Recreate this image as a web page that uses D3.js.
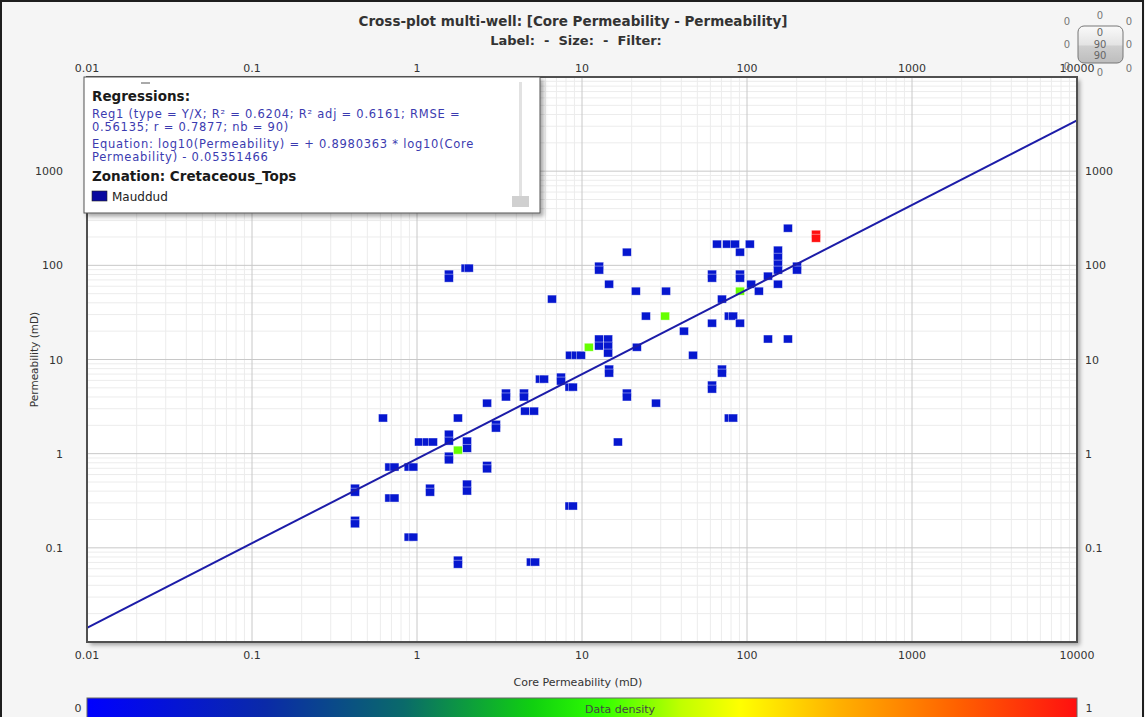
<!DOCTYPE html>
<html>
<head>
<meta charset="utf-8">
<script src="https://cdn.jsdelivr.net/npm/d3@7"></script>
<style>
    body { margin: 0; background: #fff; }
    svg { display: block; font-family: "DejaVu Sans", Verdana, sans-serif; }
</style>
</head>
<body>
<svg id="svg_plot" width="1145" height="717"></svg>
<script>
// blue points (low data density)
const blueCore = [1.56,1.56,1.97,2.06,18.7,12.7,12.7,14.6,21.2,6.58,
    32.3,177,65.8,75.7,84.6,104,90.7,154,154,154,
    154,201,201,61.4,61.4,90.7,90.7,134,106,154,
    118,70.5,24.4,77.6,82.4,61.4,90.7,41.5,134,177,
    12.7,14.4,12.7,14.4,14.4,21.5,8.46,9.2,9.86,47.1,
    14.6,14.6,70.5,70.5,5.56,5.89,7.46,7.46,8.4,8.8,
    61.4,61.4,18.7,18.7,3.46,3.46,4.45,4.45,2.66,28.1,
    4.52,5.12,1.77,0.622,77.6,82.4,3.01,3.01,1.56,1.56,
    1.03,1.15,1.25,2.01,2.01,16.5,1.56,1.56,0.68,0.73,
    0.89,0.95,2.66,2.66,0.421,0.421,1.2,1.2,2.01,2.01,
    0.68,0.73,8.4,8.8,0.421,0.421,0.89,0.95,1.77,1.77,
    4.9,5.2];
const bluePerm = [80.7,73.1,93.4,93.4,138,98,89,63.1,53.2,43.8,
    53.2,248,168,168,168,168,138,145,122,103,
    89,98,89,80.7,73.1,80.7,73.1,76.8,63.1,63.1,
    53.2,43.8,28.9,28.9,28.9,24.3,24.3,20.0,16.5,16.5,
    16.5,16.5,13.9,13.9,11.7,13.5,11.1,11.1,11.1,11.1,
    7.91,7.17,7.91,7.17,6.19,6.19,6.5,5.9,5.09,5.09,
    5.35,4.85,4.4,4.0,4.4,4.0,4.4,4.0,3.44,3.44,
    2.83,2.83,2.39,2.39,2.39,2.39,2.05,1.87,1.61,1.36,
    1.33,1.33,1.33,1.36,1.14,1.33,0.94,0.86,0.721,0.721,
    0.721,0.721,0.75,0.69,0.43,0.39,0.43,0.39,0.475,0.401,
    0.338,0.338,0.278,0.278,0.196,0.180,0.13,0.13,0.074,0.067,
    0.0706,0.0706];
const greenCore = [90.7, 31.9, 11.0, 1.77];
const greenPerm = [53.2, 28.9, 13.5, 1.09];
const redCore = [262, 262];
const redPerm = [214, 194];
const groupDensity = [0.1, 0.55, 1];

const decades = [0.01, 0.1, 1, 10, 100, 1000, 10000];
const xTickLabels = ['0.01', '0.1', '1', '10', '100', '1000', '10000'];
const yTicks = [0.1, 1, 10, 100, 1000];
const yTickLabels = ['0.1', '1', '10', '100', '1000'];

const regSlope = 0.8980363, regIntercept = -0.05351466;

const densityStops = [0, 0.18, 0.32, 0.45, 0.52, 0.6, 0.66, 0.76, 0.88, 1];
const densityColors = ['#0000ff', '#0a2aa8', '#0a6a6a', '#10d010', '#30ff00', '#c0ff00', '#ffff00', '#ffb000', '#ff6000', '#ff1010'];

const legendLines = [
    { text: 'Regressions:', bold: true, color: '#1a1a1a', y: 101 },
    { text: 'Reg1 (type = Y/X; R\u00b2 = 0.6204; R\u00b2 adj = 0.6161; RMSE =', color: '#3b3bb0', y: 118 },
    { text: '0.56135; r = 0.7877; nb = 90)', color: '#3b3bb0', y: 131 },
    { text: 'Equation: log10(Permeability) = + 0.8980363 * log10(Core', color: '#3b3bb0', y: 148 },
    { text: 'Permeability) - 0.05351466', color: '#3b3bb0', y: 161 },
    { text: 'Zonation: Cretaceous_Tops', bold: true, color: '#1a1a1a', y: 181 }
];

function draw_plot() {
    let svg = d3.select('#svg_plot');
    let left = 87, right = 1077, top = 77, bottom = 642;

    let x = d3.scaleLog().domain([0.01, 10000]).range([left, right]);
    let y = d3.scaleLog().domain([0.01, 10000]).range([bottom, top]);
    let color = d3.scaleLinear().domain(densityStops).range(densityColors);

    let defs = svg.append('defs');
    let shadow = defs.append('filter').attr('id', 'shadow').attr('x', '-5%').attr('y', '-5%').attr('width', '115%').attr('height', '120%');
    shadow.append('feDropShadow').attr('dx', 3).attr('dy', 3).attr('stdDeviation', 2).attr('flood-color', '#000').attr('flood-opacity', 0.35);
    let grad = defs.append('linearGradient').attr('id', 'density_grad');
    densityStops.forEach((s, i) => grad.append('stop').attr('offset', s).attr('stop-color', densityColors[i]));
    let knob = defs.append('linearGradient').attr('id', 'knob_grad').attr('x1', 0).attr('x2', 0).attr('y1', 0).attr('y2', 1);
    knob.append('stop').attr('offset', 0).attr('stop-color', '#fafafa');
    knob.append('stop').attr('offset', 0.5).attr('stop-color', '#e4e4e4');
    knob.append('stop').attr('offset', 0.55).attr('stop-color', '#cfcfcf');
    knob.append('stop').attr('offset', 1).attr('stop-color', '#bdbdbd');
    defs.append('clipPath').attr('id', 'plot_clip').append('rect')
        .attr('x', left).attr('y', top).attr('width', right - left).attr('height', bottom - top);

    // page background and frame
    svg.append('rect').attr('width', 1145).attr('height', 717).attr('fill', '#f5f5f5');
    svg.append('path').attr('d', 'M1,717 V1 H1143 V717').attr('fill', 'none').attr('stroke', '#1e1e1e').attr('stroke-width', 2);

    // titles
    svg.append('text').attr('x', 573).attr('y', 26).attr('text-anchor', 'middle')
        .attr('font-size', 13.5).attr('font-weight', 'bold').attr('fill', '#333')
        .text('Cross-plot multi-well: [Core Permeability - Permeability]');
    svg.append('text').attr('x', 576).attr('y', 45).attr('text-anchor', 'middle')
        .attr('font-size', 13).attr('font-weight', 'bold').attr('fill', '#333').attr('xml:space', 'preserve')
        .text('Label:  -  Size:  -  Filter:');

    // plot area
    svg.append('rect').attr('x', left).attr('y', top).attr('width', right - left).attr('height', bottom - top)
        .attr('fill', '#fff').attr('filter', 'url(#shadow)');

    let minor = [];
    decades.slice(0, -1).forEach(d => { for (let k = 2; k <= 9; k++) minor.push(d * k); });
    let grid = svg.append('g');
    grid.selectAll('.vminor').data(minor).enter().append('line')
        .attr('x1', d => x(d)).attr('x2', d => x(d)).attr('y1', top).attr('y2', bottom)
        .attr('stroke', '#ececec').attr('stroke-width', 1);
    grid.selectAll('.hminor').data(minor).enter().append('line')
        .attr('y1', d => y(d)).attr('y2', d => y(d)).attr('x1', left).attr('x2', right)
        .attr('stroke', '#ececec').attr('stroke-width', 1);
    grid.selectAll('.vmajor').data(decades).enter().append('line')
        .attr('x1', d => x(d)).attr('x2', d => x(d)).attr('y1', top).attr('y2', bottom)
        .attr('stroke', '#c8c8c8').attr('stroke-width', 1);
    grid.selectAll('.hmajor').data(decades).enter().append('line')
        .attr('y1', d => y(d)).attr('y2', d => y(d)).attr('x1', left).attr('x2', right)
        .attr('stroke', '#c8c8c8').attr('stroke-width', 1);

    // points
    let groups = [
        { core: blueCore, perm: bluePerm, density: groupDensity[0] },
        { core: greenCore, perm: greenPerm, density: groupDensity[1] },
        { core: redCore, perm: redPerm, density: groupDensity[2] }
    ];
    let pts = svg.append('g').attr('clip-path', 'url(#plot_clip)');
    groups.forEach(g => {
        let data = g.core.map((c, i) => [c, g.perm[i]]);
        pts.selectAll(null).data(data).enter().append('rect')
            .attr('x', d => x(d[0]) - 4.5).attr('y', d => y(d[1]) - 4)
            .attr('width', 9).attr('height', 8)
            .attr('fill', color(g.density))
            .attr('stroke', 'rgba(255,255,255,0.6)').attr('stroke-width', 0.7);
    });

    // regression line
    let line = d3.line().x(d => x(d)).y(d => y(Math.pow(10, regSlope * Math.log10(d) + regIntercept)));
    svg.append('path').attr('clip-path', 'url(#plot_clip)')
        .attr('d', line([0.01, 10000])).attr('fill', 'none')
        .attr('stroke', '#1c1ca8').attr('stroke-width', 2);

    svg.append('rect').attr('x', left).attr('y', top).attr('width', right - left).attr('height', bottom - top)
        .attr('fill', 'none').attr('stroke', '#505050').attr('stroke-width', 2);

    // axes labels
    let lab = svg.append('g').attr('font-size', 11).attr('fill', '#333');
    lab.selectAll('.xb').data(decades).enter().append('text')
        .attr('x', d => x(d)).attr('y', 659).attr('text-anchor', 'middle')
        .text((d, i) => xTickLabels[i]);
    lab.selectAll('.xt').data(decades).enter().append('text')
        .attr('x', d => x(d)).attr('y', 72).attr('text-anchor', 'middle')
        .text((d, i) => xTickLabels[i]);
    lab.selectAll('.yl').data(yTicks).enter().append('text')
        .attr('x', 63).attr('y', d => y(d) + 4).attr('text-anchor', 'end')
        .text((d, i) => yTickLabels[i]);
    lab.selectAll('.yr').data(yTicks).enter().append('text')
        .attr('x', 1085).attr('y', d => y(d) + 4).attr('text-anchor', 'start')
        .text((d, i) => yTickLabels[i]);
    svg.append('text').attr('x', 578).attr('y', 686).attr('text-anchor', 'middle')
        .attr('font-size', 11).attr('fill', '#333').text('Core Permeability (mD)');
    svg.append('text').attr('transform', `translate(38,${(top + bottom) / 2}) rotate(-90)`)
        .attr('text-anchor', 'middle').attr('font-size', 10.5).attr('fill', '#333').text('Permeability (mD)');

    // legend box
    let lg = svg.append('g');
    lg.append('rect').attr('x', 84).attr('y', 77).attr('width', 456).attr('height', 136)
        .attr('fill', '#fff').attr('stroke', '#555').attr('stroke-width', 1).attr('filter', 'url(#shadow)');
    lg.append('line').attr('x1', 141).attr('x2', 150).attr('y1', 83).attr('y2', 83).attr('stroke', '#555');
    lg.selectAll('.lt').data(legendLines).enter().append('text')
        .attr('x', 92).attr('y', d => d.y)
        .attr('font-size', d => d.bold ? 13.5 : 11.5)
        .attr('letter-spacing', d => d.bold ? 0 : 0.75)
        .attr('font-weight', d => d.bold ? 'bold' : 'normal')
        .attr('fill', d => d.color).text(d => d.text);
    lg.append('rect').attr('x', 92).attr('y', 191).attr('width', 15).attr('height', 10)
        .attr('fill', '#0a0aa0').attr('stroke', '#222').attr('stroke-width', 0.6);
    lg.append('text').attr('x', 112).attr('y', 201).attr('font-size', 12).attr('fill', '#222').text('Mauddud');
    lg.append('rect').attr('x', 519).attr('y', 82).attr('width', 3).attr('height', 120).attr('fill', '#e2e2e2');
    lg.append('rect').attr('x', 512).attr('y', 196).attr('width', 17).attr('height', 11).attr('fill', '#d0d0d0');

    // rotation widget
    let wg = svg.append('g').attr('font-size', 10).attr('fill', '#777').attr('text-anchor', 'middle');
    wg.append('rect').attr('x', 1078).attr('y', 26).attr('width', 45).attr('height', 37).attr('rx', 6)
        .attr('fill', 'url(#knob_grad)').attr('stroke', '#777').attr('stroke-width', 1);
    [['0', 1100, 36], ['90', 1100, 48], ['90', 1100, 59]].forEach(t =>
        wg.append('text').attr('x', t[1]).attr('y', t[2]).attr('fill', '#666').text(t[0]));
    [[1067, 25], [1100, 19], [1129, 25], [1067, 48], [1129, 48], [1067, 70], [1100, 76], [1129, 72]].forEach(p =>
        wg.append('text').attr('x', p[0]).attr('y', p[1]).text('0'));

    // density colour bar
    svg.append('rect').attr('x', left).attr('y', 698).attr('width', right - left).attr('height', 22)
        .attr('fill', 'url(#density_grad)').attr('stroke', '#666').attr('stroke-width', 1);
    svg.append('text').attr('x', 620).attr('y', 713).attr('text-anchor', 'middle')
        .attr('font-size', 11).attr('fill', '#444').text('Data density');
    svg.append('text').attr('x', 78).attr('y', 712).attr('text-anchor', 'middle')
        .attr('font-size', 11).attr('fill', '#333').text('0');
    svg.append('text').attr('x', 1089).attr('y', 712).attr('text-anchor', 'middle')
        .attr('font-size', 11).attr('fill', '#333').text('1');
}

draw_plot();
</script>
</body>
</html>
